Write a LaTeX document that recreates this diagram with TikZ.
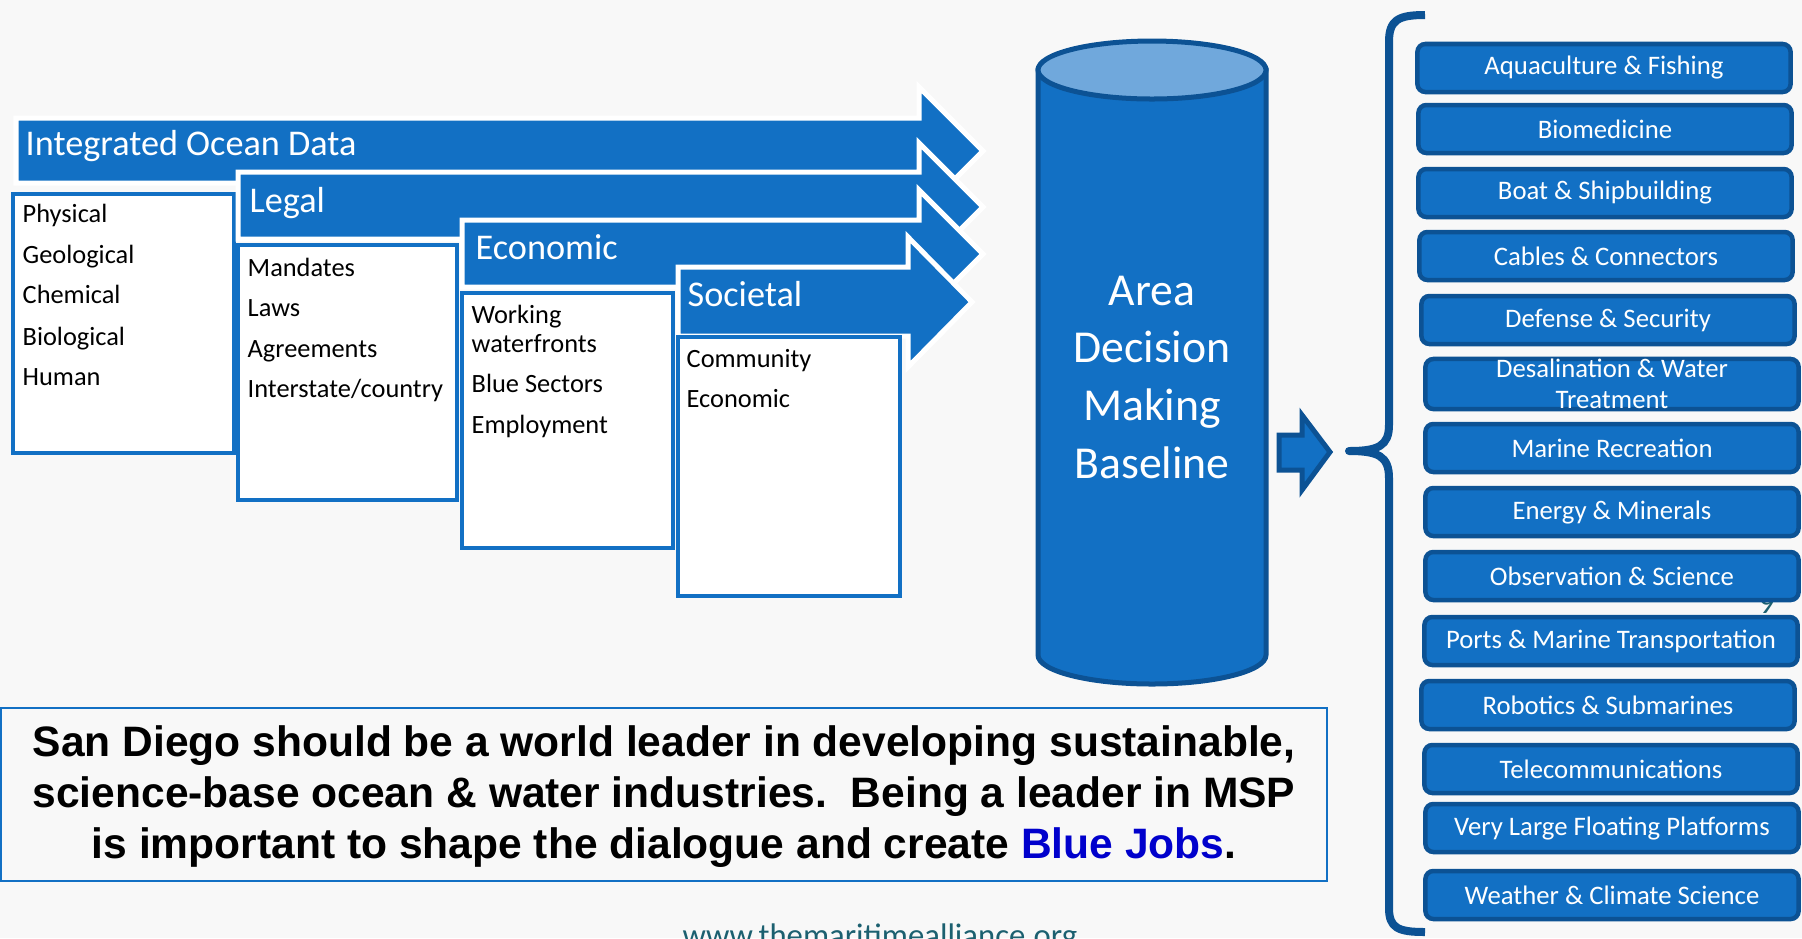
\documentclass[tikz,border=0pt]{standalone}
\usepackage{fontspec}
\setmainfont{Carlito}
\newfontfamily\arialfont{Liberation Sans}
\definecolor{oceanblue}{RGB}{18,112,196}
\definecolor{deepblue}{RGB}{12,82,148}
\definecolor{lightblue}{RGB}{112,168,220}
\definecolor{jobsblue}{RGB}{0,0,204}
\definecolor{urlteal}{RGB}{28,96,112}
\definecolor{paper}{RGB}{248,248,248}
\begin{document}
\begin{tikzpicture}[x=0.01cm,y=-0.01cm,
    band/.style={fill=oceanblue,draw=white,line width=0.05cm},
    listbox/.style={fill=white,draw=oceanblue,line width=0.04cm},
    bandlabel/.style={anchor=base west,inner sep=0pt,text=white,font=\fontsize{10.3}{12}\selectfont},
    item/.style={anchor=base west,inner sep=0pt,font=\fontsize{7.5}{9}\selectfont},
    sector/.style={draw=deepblue,fill=oceanblue,line width=0.045cm,rounded corners=0.08cm,
        minimum width=3.73cm,minimum height=0.48cm,inner sep=0pt,text=white,align=center,
        font=\fontsize{7.6}{8.9}\selectfont}]
    \useasboundingbox[fill=paper] (0,0) rectangle (1802,938);

    \draw[band] (16,118) -- (919,118) -- (919,87) -- (983,151) -- (919,215) -- (919,183) -- (16,183) -- cycle;
    \node[bandlabel] (iod) at (25,155) {Integrated Ocean Data};
    \draw[listbox] (13,194) rectangle (234,453);
    \node[item] (phys) at (22,222) {Physical};
    \node[item] (geol) at (22,263) {Geological};
    \node[item] (chem) at (22,303) {Chemical};
    \node[item] (biol) at (22,345) {Biological};
    \node[item] (human) at (22,385) {Human};

    \draw[band] (238,172) -- (919,172) -- (919,143) -- (983,207) -- (919,271) -- (919,239) -- (238,239) -- cycle;
    \node[bandlabel] (legal) at (249,212) {Legal};
    \draw[listbox] (238,245) rectangle (457,500);
    \node[item] (mand) at (247,276) {Mandates};
    \node[item] (laws) at (247,316) {Laws};
    \node[item] (agree) at (247,357) {Agreements};
    \node[item] (inter) at (247,397) {Interstate/country};

    \draw[band] (462,220) -- (919,220) -- (919,190) -- (983,254) -- (919,318) -- (919,287) -- (462,287) -- cycle;
    \node[bandlabel] (econ) at (475,259) {Economic};
    \draw[listbox] (462,293) rectangle (673,548);
    \node[item] (work) at (471,323) {Working};
    \node[item] (water) at (471,352) {waterfronts};
    \node[item] (blue) at (471,392) {Blue Sectors};
    \node[item] (employ) at (471,433) {Employment};

    \draw[band] (678,267) -- (908,267) -- (908,237) -- (972,302) -- (908,367) -- (908,336) -- (678,336) -- cycle;
    \node[bandlabel] (soc) at (687,306) {Societal};
    \draw[listbox] (678,337) rectangle (900,596);
    \node[item] (comm) at (686,367) {Community};
    \node[item] (econ2) at (686,407) {Economic};

    \draw[fill=oceanblue,draw=deepblue,line width=0.05cm] (1038,70) -- (1038,655)
        arc[start angle=180,end angle=0,x radius=114,y radius=29] -- (1266,70) -- cycle;
    \draw[fill=lightblue,draw=deepblue,line width=0.05cm] (1152,70) ellipse [x radius=114,y radius=29];
    \node[text=white,align=center,font=\fontsize{13}{16.4}\selectfont] (adm) at (1152,377) {Area\\Decision\\Making\\Baseline};

    \draw[fill=oceanblue,draw=deepblue,line width=0.05cm] (1279,435) -- (1302,435) -- (1302,415) -- (1330,452)
        -- (1302,490) -- (1302,470) -- (1279,470) -- cycle;
    \draw[deepblue,line width=0.08cm,line join=round] (1425,15) .. controls (1398,15) and (1389,20) .. (1389,42)
        -- (1389,425) .. controls (1389,446) and (1378,451) .. (1349,451)
        .. controls (1378,451) and (1389,456) .. (1389,478) -- (1389,908)
        .. controls (1389,928) and (1398,932) .. (1425,932);

    \node[text=urlteal,font=\fontsize{9}{10}\selectfont,anchor=base,inner sep=0pt] (num) at (1767,613) {9};

    \node[sector] (aqua) at (1604,68) {Aquaculture \& Fishing};
    \node[sector] (biomed) at (1605,129) {Biomedicine};
    \node[sector] (boat) at (1605,193) {Boat \& Shipbuilding};
    \node[sector] (cable) at (1606,256) {Cables \& Connectors};
    \node[sector] (defense) at (1608,320) {Defense \& Security};
    \node[sector] (desal) at (1612,384) {Desalination \& Water\\Treatment};
    \node[sector] (recre) at (1612,448) {Marine Recreation};
    \node[sector] (energy) at (1612,512) {Energy \& Minerals};
    \node[sector] (observ) at (1612,576) {Observation \& Science};
    \node[sector] (ports) at (1611,641) {Ports \& Marine Transportation};
    \node[sector] (robot) at (1608,705) {Robotics \& Submarines};
    \node[sector] (telecom) at (1611,769) {Telecommunications};
    \node[sector] (vlfp) at (1612,828) {Very Large Floating Platforms};
    \node[sector] (weather) at (1612,895) {Weather \& Climate Science};

    \draw[oceanblue,line width=0.02cm] (1,708) rectangle (1327,881);
    \node[align=center,font=\arialfont\bfseries\fontsize{12.1}{14.5}\selectfont] (msg) at (664,797)
        {San Diego should be a world leader in developing sustainable,\\
         science-base ocean \& water industries.\ \ Being a leader in MSP\\
         is important to shape the dialogue and create \textcolor{jobsblue}{Blue Jobs}.};

    \node[text=urlteal,font=\fontsize{9.3}{11}\selectfont,anchor=base,inner sep=0pt] (url) at (880,946) {www.themaritimealliance.org};
\end{tikzpicture}
\end{document}
